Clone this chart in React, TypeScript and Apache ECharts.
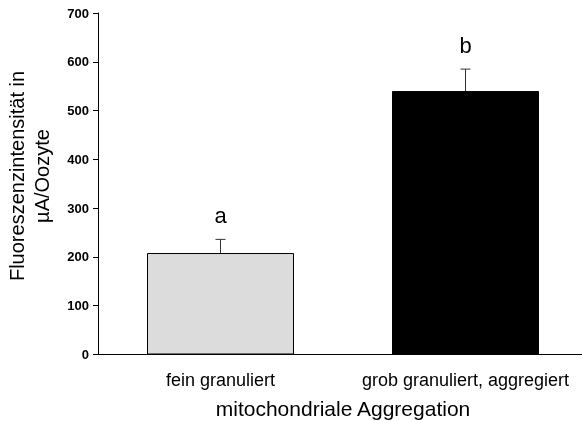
import React, { useEffect, useRef } from "react";
import * as echarts from "echarts";

const categories = ["fein granuliert", "grob granuliert, aggregiert"];
const means = [208, 540];
const errorTops = [236, 585];
const letters = ["a", "b"];
const barColors = ["#dcdcdc", "#000000"];

export default function App() {
  const ref = useRef<HTMLDivElement>(null);
  useEffect(() => {
    if (!ref.current) return;
    const chart = echarts.init(ref.current, null, { renderer: "svg" });
    const font = "Liberation Sans, Arial, sans-serif";
    chart.setOption({
      animation: false,
      grid: { left: 98, top: 13, width: 490, height: 341.5, outerBoundsMode: "none", containLabel: false },
      xAxis: {
        type: "category",
        data: categories,
        name: "mitochondriale Aggregation",
        nameLocation: "middle",
        nameGap: 43,
        nameTextStyle: { fontFamily: font, fontSize: 21, color: "#000" },
        axisLine: { lineStyle: { color: "#000", width: 1 } },
        axisTick: { alignWithLabel: true, length: 5, lineStyle: { color: "#000" } },
        axisLabel: { fontFamily: font, fontSize: 18, color: "#000", margin: 16, interval: 0, hideOverlap: false },
      },
      yAxis: {
        type: "value",
        min: 0,
        max: 700,
        interval: 100,
        axisLine: { show: true, lineStyle: { color: "#000", width: 1 } },
        axisTick: { show: true, length: 5, lineStyle: { color: "#000" } },
        axisLabel: { fontFamily: font, fontSize: 13, fontWeight: "bold", color: "#000", margin: 9 },
        splitLine: { show: false },
      },
      graphic: [
        {
          type: "text",
          x: 29,
          y: 176,
          rotation: Math.PI / 2,
          style: {
            text: "Fluoreszenzintensität in\nµA/Oozyte",
            fontFamily: font,
            fontSize: 20,
            lineHeight: 25,
            fill: "#000",
            align: "center",
            verticalAlign: "middle",
          },
        },
      ],
      series: [
        {
          type: "bar",
          barWidth: "60%",
          data: means.map((v, i) => ({
            value: v,
            itemStyle: { color: barColors[i], borderColor: "#000", borderWidth: 1 },
          })),
        },
        {
          type: "custom",
          data: categories.map((c, i) => [i, means[i], errorTops[i]]),
          renderItem: (params: any, api: any) => {
            const i = api.value(0);
            const base = api.coord([i, api.value(1)]);
            const top = api.coord([i, api.value(2)]);
            const x = base[0];
            return {
              type: "group",
              children: [
                {
                  type: "line",
                  shape: { x1: x, y1: base[1], x2: x, y2: top[1] },
                  style: { stroke: "#333", lineWidth: 1 },
                },
                {
                  type: "line",
                  shape: { x1: x - 5, y1: top[1], x2: x + 5, y2: top[1] },
                  style: { stroke: "#333", lineWidth: 1 },
                },
                {
                  type: "text",
                  x: x,
                  y: top[1] - 24,
                  style: {
                    text: letters[i],
                    fontFamily: font,
                    fontSize: 22,
                    fill: "#000",
                    align: "center",
                    verticalAlign: "middle",
                  },
                },
              ],
            };
          },
          z: 3,
        },
      ],
    });
    return () => chart.dispose();
  }, []);
  return <div ref={ref} style={{ position: "fixed", left: 0, top: 0, width: 582, height: 421 }} />;
}
